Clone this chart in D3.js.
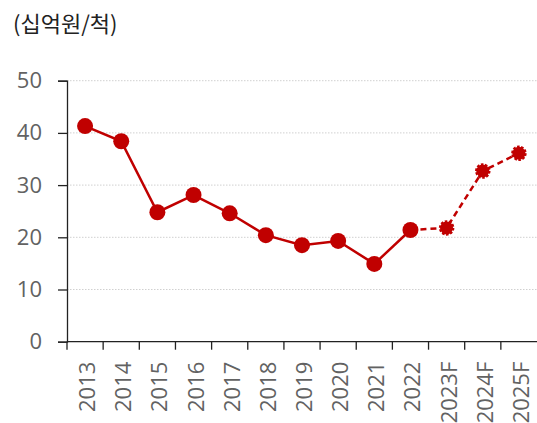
<!DOCTYPE html>
<html><head><meta charset="utf-8">
<script src="https://cdn.jsdelivr.net/npm/d3@7"></script>
<style>body{margin:0;background:#fff}svg{display:block}</style>
</head><body>
<svg id="c" width="537" height="423"></svg>
<script>
const categories = ["2013","2014","2015","2016","2017","2018","2019","2020","2021","2022","2023F","2024F","2025F"];
const values = [41.3,38.4,24.8,28.1,24.6,20.4,18.5,19.3,14.9,21.4,21.8,32.7,36.1];
const forecastStart = 9; // index where dashed line begins (2022)
const yTicks = [0,10,20,30,40,50];
const unitLabel = "(십억원/척)";

(function(){
const svg = d3.select("#c");
const red = "#C00000";
const mLeft = 67, mRight = 537, mTop = 80.7, mBottom = 341.7;
const x = d3.scaleBand().domain(categories).range([mLeft, mRight]).padding(0);
const y = d3.scaleLinear().domain([0,50]).range([mBottom, mTop]);

// gridlines
svg.append("g").selectAll("line").data(yTicks.filter(d=>d>0)).join("line")
  .attr("x1", mLeft).attr("x2", mRight)
  .attr("y1", d=>y(d)).attr("y2", d=>y(d))
  .attr("stroke", "#d0d0d0").attr("stroke-width", 1).attr("stroke-dasharray", "1.5,1.5");

// y axis
const ya = svg.append("g").attr("transform", `translate(${mLeft},0)`)
  .call(d3.axisLeft(y).tickValues(yTicks).tickSize(9).tickPadding(8));
ya.select(".domain").attr("stroke", "#222").attr("stroke-width", 1.3);
ya.selectAll(".tick line").attr("stroke", "#222").attr("stroke-width", 1.3);
ya.selectAll("text").attr("font-family", "'Open Sans', 'Noto Sans', sans-serif")
  .attr("font-size", 22).attr("fill", "#626262").attr("dx", -8);

// x axis with ticks at band boundaries
const xa = svg.append("g").attr("transform", `translate(0,${mBottom})`);
xa.append("line").attr("x1", mLeft).attr("x2", mRight).attr("stroke", "#222").attr("stroke-width", 1.3);
xa.selectAll("line.t").data(categories).join("line").attr("class","t")
  .attr("x1", d=>x(d)).attr("x2", d=>x(d)).attr("y1", 0).attr("y2", 8)
  .attr("stroke", "#222").attr("stroke-width", 1.3);
xa.selectAll("text").data(categories).join("text")
  .attr("transform", d=>`translate(${x(d)+x.bandwidth()/2+10},20) rotate(-90)`)
  .attr("text-anchor", "end")
  .attr("font-family", "'Open Sans', 'Noto Sans', sans-serif")
  .attr("font-size", 22).attr("fill", "#626262").text(d=>d);

// lines
const pts = categories.map((c,i)=>({c, v: values[i], i}));
const line = d3.line().x(d=>x(d.c)+x.bandwidth()/2).y(d=>y(d.v));
svg.append("path").datum(pts.slice(0, forecastStart+1)).attr("d", line)
  .attr("fill","none").attr("stroke", red).attr("stroke-width", 2.5);
svg.append("path").datum(pts.slice(forecastStart)).attr("d", line)
  .attr("fill","none").attr("stroke", red).attr("stroke-width", 2.5).attr("stroke-dasharray","6,4");

// markers
svg.append("g").selectAll("circle").data(pts).join("circle")
  .attr("cx", d=>x(d.c)+x.bandwidth()/2).attr("cy", d=>y(d.v)).attr("r", d=>d.i>forecastStart?6.5:8)
  .attr("fill", red)
  .attr("stroke", red).attr("stroke-width", d=>d.i>forecastStart?2.5:0)
  .attr("stroke-dasharray", d=>d.i>forecastStart?"2.5,1.5":null);

// unit label
svg.append("text").attr("x", 13).attr("y", 32)
  .attr("font-family", "'Noto Sans CJK KR', 'Noto Sans', sans-serif")
  .attr("font-size", 22).attr("fill", "#222").text(unitLabel);
})();
</script>
</body></html>
